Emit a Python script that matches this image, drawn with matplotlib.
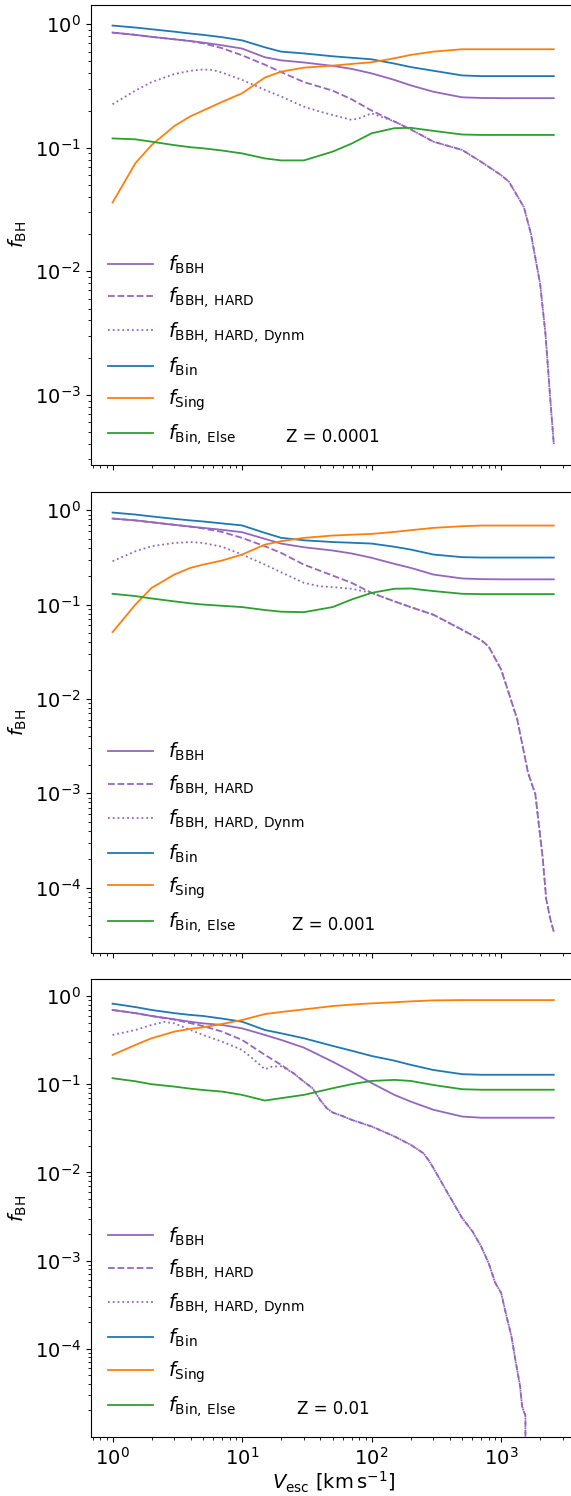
import numpy as np
import matplotlib
matplotlib.use("Agg")
import matplotlib.pyplot as plt

# Escape-velocity grid shared by the smooth curves [km/s]
vesc = np.array([1, 1.5, 2, 3, 4, 5, 7, 10, 15, 20, 30, 50, 70, 100,
                 150, 200, 300, 500, 700, 1000, 1500, 2000, 2550])

# ---- Z = 0.0001 ----
bin_1 = [0.975, 0.94, 0.91, 0.87, 0.84, 0.82, 0.785, 0.74, 0.65, 0.60, 0.58, 0.55,
         0.535, 0.52, 0.48, 0.45, 0.42, 0.385, 0.38, 0.38, 0.38, 0.38, 0.38]
bbh_1 = [0.855, 0.82, 0.79, 0.755, 0.73, 0.71, 0.675, 0.635, 0.54, 0.51, 0.49, 0.46,
         0.435, 0.40, 0.354, 0.32, 0.284, 0.256, 0.253, 0.252, 0.252, 0.252, 0.252]
sing_1 = [0.036, 0.075, 0.105, 0.15, 0.18, 0.20, 0.235, 0.276, 0.37, 0.413, 0.445, 0.462,
          0.477, 0.492, 0.53, 0.564, 0.60, 0.627, 0.627, 0.627, 0.627, 0.627, 0.627]
else_1 = [0.119, 0.117, 0.112, 0.105, 0.101, 0.099, 0.095, 0.090, 0.082, 0.079, 0.079, 0.093,
          0.108, 0.131, 0.144, 0.145, 0.137, 0.128, 0.127, 0.127, 0.127, 0.127, 0.127]
hard_x_1 = [1, 1.5, 2, 3, 4, 5, 7, 10, 15, 20, 30, 50, 70, 100, 150, 200, 300, 500, 700,
            1000, 1150, 1300, 1500, 1700, 2000, 2200, 2400, 2550]
hard_1 = [0.855, 0.82, 0.79, 0.755, 0.73, 0.70, 0.64, 0.56, 0.47, 0.41, 0.34, 0.29, 0.247,
          0.20, 0.163, 0.141, 0.112, 0.096, 0.077, 0.060, 0.053, 0.0426, 0.033, 0.020,
          0.0079, 0.0031, 9e-4, 4e-4]
dyn_x_1 = [1, 1.5, 2, 3, 4, 5, 6, 7, 10, 15, 20, 30, 40, 50, 70, 80, 100]
dyn_1 = [0.225, 0.29, 0.34, 0.395, 0.42, 0.43, 0.425, 0.406, 0.354, 0.294, 0.26, 0.215,
         0.196, 0.184, 0.168, 0.173, 0.19]

# ---- Z = 0.001 ----
bin_2 = [0.945, 0.90, 0.86, 0.81, 0.78, 0.76, 0.725, 0.69, 0.575, 0.51, 0.48, 0.46,
         0.452, 0.443, 0.41, 0.383, 0.339, 0.318, 0.315, 0.315, 0.315, 0.315, 0.315]
bbh_2 = [0.816, 0.78, 0.746, 0.70, 0.67, 0.65, 0.62, 0.585, 0.497, 0.443, 0.405, 0.374,
         0.348, 0.313, 0.27, 0.245, 0.208, 0.189, 0.186, 0.185, 0.185, 0.185, 0.185]
sing_2 = [0.051, 0.10, 0.150, 0.208, 0.245, 0.265, 0.293, 0.339, 0.432, 0.469, 0.509, 0.539,
          0.55, 0.561, 0.589, 0.614, 0.65, 0.677, 0.688, 0.688, 0.688, 0.688, 0.688]
else_2 = [0.13, 0.123, 0.116, 0.108, 0.103, 0.10, 0.097, 0.094, 0.0875, 0.084, 0.083, 0.094,
          0.113, 0.133, 0.147, 0.148, 0.139, 0.13, 0.129, 0.129, 0.129, 0.129, 0.129]
hard_x_2 = [1, 1.5, 2, 3, 4, 5, 7, 10, 15, 20, 30, 50, 70, 100, 150, 200, 300, 500, 700,
            800, 1000, 1330, 1614, 1836, 2090, 2230, 2400, 2550]
hard_2 = [0.816, 0.78, 0.746, 0.70, 0.67, 0.64, 0.589, 0.509, 0.415, 0.353, 0.265, 0.203,
          0.17, 0.133, 0.108, 0.094, 0.078, 0.054, 0.042, 0.036, 0.0205, 0.0061, 0.00164,
          9.8e-4, 2.1e-4, 7.5e-5, 4.6e-5, 3.4e-5]
dyn_x_2 = [1, 1.5, 2, 3, 4, 5, 7, 10, 15, 20, 30, 40, 50, 70, 100]
dyn_2 = [0.288, 0.367, 0.415, 0.45, 0.46, 0.45, 0.41, 0.339, 0.265, 0.22, 0.17, 0.156,
         0.153, 0.147, 0.133]

# ---- Z = 0.01 ----
bin_3 = [0.82, 0.75, 0.695, 0.64, 0.61, 0.594, 0.555, 0.512, 0.412, 0.378, 0.332, 0.272,
         0.24, 0.209, 0.185, 0.166, 0.145, 0.13, 0.128, 0.128, 0.128, 0.128, 0.128]
bbh_3 = [0.695, 0.64, 0.594, 0.545, 0.51, 0.49, 0.47, 0.43, 0.362, 0.318, 0.26, 0.18,
         0.139, 0.103, 0.0757, 0.0636, 0.0513, 0.043, 0.0417, 0.0417, 0.0417, 0.0417, 0.0417]
sing_3 = [0.215, 0.279, 0.332, 0.395, 0.425, 0.442, 0.482, 0.535, 0.625, 0.659, 0.706, 0.77,
          0.80, 0.826, 0.85, 0.87, 0.893, 0.90, 0.90, 0.90, 0.90, 0.90, 0.90]
else_3 = [0.117, 0.108, 0.10, 0.094, 0.089, 0.086, 0.0825, 0.0757, 0.0653, 0.0695, 0.0757,
          0.09, 0.10, 0.109, 0.112, 0.109, 0.098, 0.0878, 0.0866, 0.0866, 0.0866, 0.0866, 0.0866]
hard_x_3 = [1, 1.5, 2, 3, 5, 7, 10, 15, 20, 25, 30, 35, 40, 45, 50, 60, 70, 100, 150, 200,
            250, 280, 300, 400, 500, 600, 700, 800, 900, 1000, 1100, 1200, 1300, 1400,
            1450, 1540, 1560, 2550]
hard_3 = [0.695, 0.64, 0.594, 0.54, 0.457, 0.395, 0.318, 0.215, 0.166, 0.133, 0.107, 0.09,
          0.0665, 0.0535, 0.0478, 0.0434, 0.0395, 0.0332, 0.0256, 0.0206, 0.0166, 0.0133,
          0.0112, 0.00535, 0.00304, 0.00215, 0.00145, 9.4e-4, 5.6e-4, 4.3e-4, 2.34e-4,
          1.39e-4, 6.9e-5, 3.78e-5, 2.24e-5, 1.73e-5, 0.0, 0.0]
dyn_x_3 = [1, 1.5, 2, 2.5, 3, 4, 5, 7, 10, 12, 15, 17, 20, 25]
dyn_3 = [0.362, 0.412, 0.47, 0.51, 0.49, 0.412, 0.362, 0.304, 0.245, 0.197, 0.148, 0.158,
         0.16, 0.133]

metallicities = ["0.0001", "0.001", "0.01"]
panels = [
    (bbh_1, hard_x_1, hard_1, dyn_x_1, dyn_1, bin_1, sing_1, else_1),
    (bbh_2, hard_x_2, hard_2, dyn_x_2, dyn_2, bin_2, sing_2, else_2),
    (bbh_3, hard_x_3, hard_3, dyn_x_3, dyn_3, bin_3, sing_3, else_3),
]

# axes boxes [left, bottom, width, height] in figure fraction
boxes = [
    [0.1585, 0.6892, 0.85, 0.3077],
    [0.1585, 0.3632, 0.85, 0.3082],
    [0.1585, 0.0396, 0.85, 0.3058],
]

fig = plt.figure(figsize=(5.71, 14.96), dpi=100)
axes = []
for i, (box, data, z) in enumerate(zip(boxes, panels, metallicities)):
    bbh, hx, hard, dx, dyn, fbin, sing, felse = data
    ax = fig.add_axes(box, sharex=axes[0] if axes else None)
    axes.append(ax)

    # the dynamical hard fraction coincides with the hard fraction past its last point
    hx = np.array(hx)
    hard = np.array(hard)
    tail = hx > dx[-1]
    dyn_x = np.concatenate([dx, hx[tail]])
    dyn_y = np.concatenate([dyn, hard[tail]])

    ax.plot(vesc, bbh, color="tab:purple", lw=1.3, label=r"$f_{\rm BBH}$")
    ax.plot(hx, hard, color="tab:purple", lw=1.3, ls="--", label=r"$f_{\rm BBH,\:HARD}$")
    ax.plot(dyn_x, dyn_y, color="tab:purple", lw=1.3, ls=":",
            label=r"$f_{\rm BBH,\:HARD,\:Dynm}$")
    ax.plot(vesc, fbin, color="tab:blue", lw=1.3, label=r"$f_{\rm Bin}$")
    ax.plot(vesc, sing, color="tab:orange", lw=1.3, label=r"$f_{\rm Sing}$")
    ax.plot(vesc, felse, color="tab:green", lw=1.3, label=r"$f_{\rm Bin,\:Else}$")

    ax.set_xscale("log")
    ax.set_yscale("log")
    ax.set_ylabel(r"$f_{\rm BH}$", fontsize=14)
    ax.tick_params(labelsize=14)
    ax.legend(loc="lower left", frameon=False, fontsize=14, handlelength=2.3)
    ax.text(0.5, 0.049, "Z = " + z, transform=ax.transAxes, ha="center",
            va="baseline", fontsize=12)
    if i < 2:
        ax.tick_params(labelbottom=False)

axes[-1].set_xlabel(r"$V_{\rm esc}\ [{\rm km\,s^{-1}}]$", fontsize=14, labelpad=1)

fig.savefig("out.png", dpi=100)
